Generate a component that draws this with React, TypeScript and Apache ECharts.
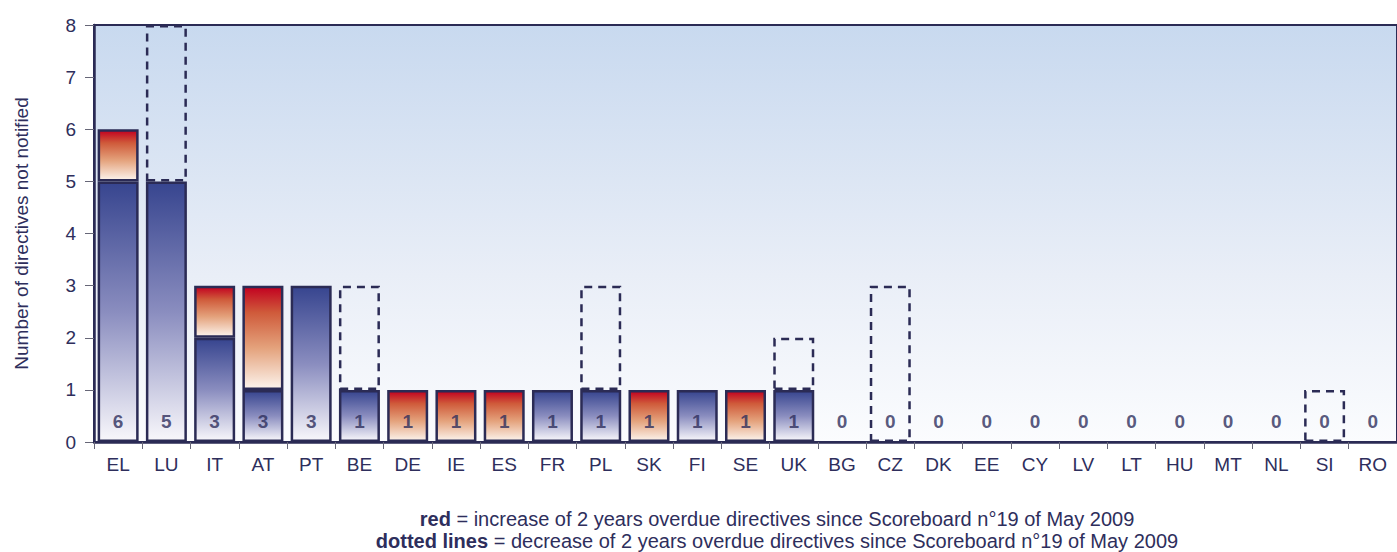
import React, { useEffect, useRef } from "react";
import * as echarts from "echarts";

const categories = ["EL","LU","IT","AT","PT","BE","DE","IE","ES","FR","PL","SK","FI","SE","UK","BG","CZ","DK","EE","CY","LV","LT","HU","MT","NL","SI","RO"];
const blueValues = [5,5,2,1,3,1,0,0,0,1,1,0,1,0,1,0,0,0,0,0,0,0,0,0,0,0,0];
const redValues  = [1,0,1,2,0,0,1,1,1,0,0,1,0,1,0,0,0,0,0,0,0,0,0,0,0,0,0];
const previousValues: (number | null)[] = [null,8,null,null,null,3,null,null,null,null,3,null,null,null,2,null,3,null,null,null,null,null,null,null,null,1,null];
const yTicks = [0,1,2,3,4,5,6,7,8];

const NAVY = "#2b2b55";
const TEXT = "#2e2e5c";
const FONT = "Liberation Sans, Arial, sans-serif";

export default function App() {
  const ref = useRef<HTMLDivElement>(null);
  useEffect(() => {
    if (!ref.current) return;
    const chart = echarts.init(ref.current, null, { renderer: "svg" });
    const totals = blueValues.map((b, i) => b + redValues[i]);
    const blueGrad = new echarts.graphic.LinearGradient(0, 0, 0, 1, [
      { offset: 0, color: "#37458f" },
      { offset: 0.5, color: "#8a8dbf" },
      { offset: 1, color: "#f8f7fb" },
    ]);
    const redGrad = new echarts.graphic.LinearGradient(0, 0, 0, 1, [
      { offset: 0, color: "#c20020" },
      { offset: 0.25, color: "#cf5a3a" },
      { offset: 0.6, color: "#e4a27c" },
      { offset: 1, color: "#fcf3ec" },
    ]);
    const bgGrad = new echarts.graphic.LinearGradient(0, 0, 0, 1, [
      { offset: 0, color: "#c8d9ef" },
      { offset: 0.6, color: "#e9eef7" },
      { offset: 1, color: "#fbfcfe" },
    ]);
    const barStyle = (fill: any) => ({ color: fill, borderColor: NAVY, borderWidth: 2.5 });
    chart.setOption({
      animation: false,
      textStyle: { fontFamily: FONT },
      grid: {
        left: 94, width: 1309, top: 25, height: 417,
        show: true, backgroundColor: bgGrad, borderColor: NAVY, borderWidth: 2,
      },
      xAxis: {
        type: "category",
        data: categories,
        axisLine: { lineStyle: { color: NAVY, width: 2.5 } },
        axisTick: { show: true, interval: 0, length: 7, lineStyle: { color: "#666677" } },
        axisLabel: { color: TEXT, fontSize: 19, margin: 13, interval: 0 },
        z: 10,
      },
      yAxis: {
        type: "value",
        min: 0, max: 8, interval: 1,
        name: "Number of directives not notified",
        nameLocation: "middle",
        nameGap: 63,
        nameTextStyle: { color: TEXT, fontSize: 19 },
        axisLine: { show: true, lineStyle: { color: NAVY, width: 2.5 } },
        axisTick: { show: true, length: 9, lineStyle: { color: "#666677" } },
        axisLabel: { color: TEXT, fontSize: 19, margin: 18, formatter: (v: number) => (yTicks.includes(v) ? String(v) : "") },
        splitLine: { show: false },
      },
      series: [
        {
          type: "bar", stack: "a", barWidth: 41, barGap: "-100%",
          data: blueValues.map((v) => (v > 0 ? v : "-")),
          itemStyle: barStyle(blueGrad),
        },
        {
          type: "bar", stack: "a", barWidth: 41,
          data: redValues.map((v) => (v > 0 ? v : "-")),
          itemStyle: barStyle(redGrad),
        },
        {
          type: "bar", stack: "b", barWidth: 41, barGap: "-100%",
          data: previousValues.map((p, i) => (p != null ? totals[i] : "-")),
          itemStyle: { color: "transparent", borderWidth: 0 },
          silent: true,
        },
        {
          type: "bar", stack: "b", barWidth: 41, barGap: "-100%",
          data: previousValues.map((p, i) => (p != null ? p - totals[i] : "-")),
          itemStyle: { color: "transparent", borderColor: NAVY, borderWidth: 2.5, borderType: [8, 6] },
          silent: true,
        },
        {
          type: "scatter",
          symbolSize: 0,
          data: totals.map((t, i) => [i, 0]),
          label: {
            show: true, position: "inside", offset: [0, -21],
            fontSize: 19, fontWeight: "bold", color: TEXT,
            formatter: (p: any) => String(totals[p.dataIndex]),
          },
          z: 20,
          silent: true,
        },
      ],
      graphic: [
        {
          type: "text", x: 777, y: 519,
          style: {
            text: "{b|red} = increase of 2 years overdue directives since Scoreboard n°19 of May 2009",
            rich: { b: { fontWeight: "bold", fontSize: 20, fill: TEXT, fontFamily: FONT } },
            fontSize: 20, fill: TEXT, fontFamily: FONT, align: "center", verticalAlign: "middle",
          },
        },
        {
          type: "text", x: 777, y: 541,
          style: {
            text: "{b|dotted lines} = decrease of 2 years overdue directives since Scoreboard n°19 of May 2009",
            rich: { b: { fontWeight: "bold", fontSize: 20, fill: TEXT, fontFamily: FONT } },
            fontSize: 20, fill: TEXT, fontFamily: FONT, align: "center", verticalAlign: "middle",
          },
        },
      ],
    });
    return () => chart.dispose();
  }, []);
  return (
    <div
      ref={ref}
      style={{ position: "fixed", left: 0, top: 0, width: 1397, height: 552, background: "#ffffff" }}
    />
  );
}
